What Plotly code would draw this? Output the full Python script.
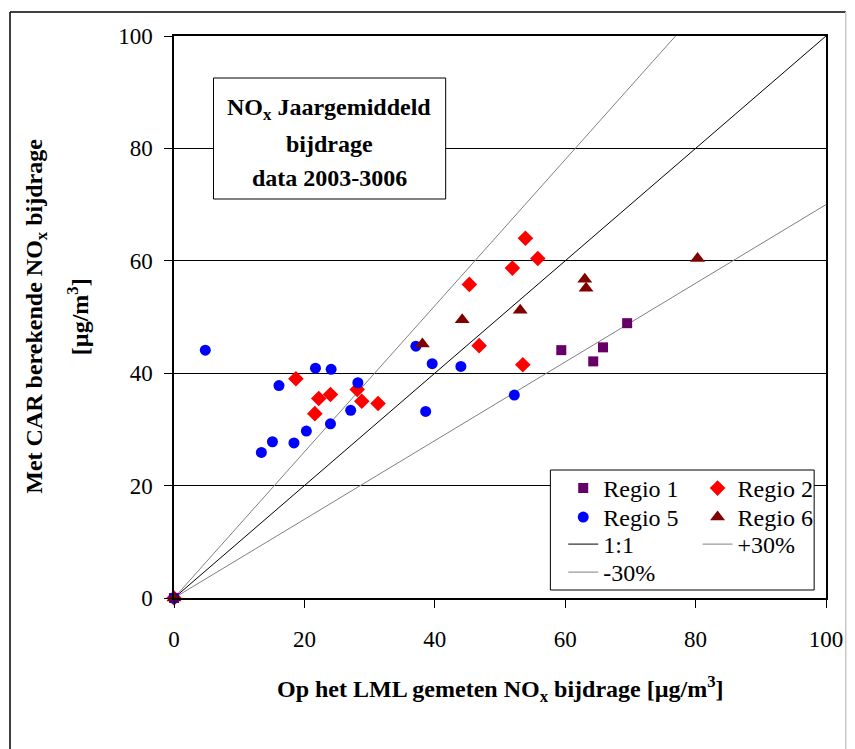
import plotly.graph_objects as go

# ---- data ----
regio1_x = [0, 59.4, 64.3, 65.8, 69.5]
regio1_y = [0, 44.1, 42.1, 44.6, 48.9]

regio2_x = [0, 18.7, 21.6, 22.2, 24.0, 28.1, 28.8, 31.3, 45.3, 46.8, 51.9, 53.5, 53.9, 55.8]
regio2_y = [0, 39.0, 32.8, 35.5, 36.2, 37.1, 35.0, 34.6, 55.8, 44.9, 58.7, 41.5, 64.0, 60.4]

regio5_x = [0, 4.8, 13.4, 15.1, 16.1, 18.4, 20.3, 21.7, 24.0, 24.1, 27.1, 28.2, 37.1, 38.6, 39.6, 44.0, 52.2]
regio5_y = [0, 44.1, 25.9, 27.8, 37.8, 27.6, 29.7, 40.9, 31.0, 40.7, 33.4, 38.3, 44.8, 33.2, 41.7, 41.2, 36.1]

regio6_x = [0, 38.1, 44.2, 53.1, 63.0, 63.2, 80.3]
regio6_y = [0, 45.2, 49.5, 51.2, 56.7, 55.1, 60.4]

line11_x = [0, 100]
line11_y = [0, 100]
plus30_x = [0, 76.92]
plus30_y = [0, 100]
minus30_x = [0, 100]
minus30_y = [0, 70]

tick_vals = [0, 20, 40, 60, 80, 100]

FONT = "Liberation Serif"

W, H = 855, 749
ML, MR, MT, MB = 174, 21, 36, 151
PW, PH = W - ML - MR, H - MT - MB


def px2x(p):
    return (p - ML) / PW


def px2y(p):
    return (H - MB - p) / PH


fig = go.Figure()

# reference lines
fig.add_trace(go.Scatter(x=line11_x, y=line11_y, mode="lines", name="1:1",
                         line=dict(color="#000000", width=1), legend="legend5"))
fig.add_trace(go.Scatter(x=plus30_x, y=plus30_y, mode="lines", name="+30%",
                         line=dict(color="#808080", width=1), legend="legend6"))
fig.add_trace(go.Scatter(x=minus30_x, y=minus30_y, mode="lines", name="-30%",
                         line=dict(color="#808080", width=1), legend="legend7"))

# data series
fig.add_trace(go.Scatter(x=regio1_x, y=regio1_y, mode="markers", name="Regio 1",
                         marker=dict(symbol="square", size=10, color="#660066"),
                         legend="legend", cliponaxis=False))
fig.add_trace(go.Scatter(x=regio2_x, y=regio2_y, mode="markers", name="Regio 2",
                         marker=dict(symbol="diamond", size=12, color="#FF0000"),
                         legend="legend2", cliponaxis=False))
fig.add_trace(go.Scatter(x=regio5_x, y=regio5_y, mode="markers", name="Regio 5",
                         marker=dict(symbol="circle", size=11, color="#0000FF"),
                         legend="legend3", cliponaxis=False))
fig.add_trace(go.Scatter(x=regio6_x, y=regio6_y, mode="markers", name="Regio 6",
                         marker=dict(symbol="triangle-up", size=13, color="#800000"),
                         legend="legend4", cliponaxis=False))

shapes = [
    # outer chart border
    dict(type="line", xref="paper", yref="paper", x0=px2x(8), x1=px2x(8), y0=px2y(12), y1=px2y(760),
         line=dict(color="#000000", width=1.5)),
    dict(type="line", xref="paper", yref="paper", x0=px2x(8), x1=px2x(854), y0=px2y(12), y1=px2y(12),
         line=dict(color="#000000", width=1.5)),
    dict(type="line", xref="paper", yref="paper", x0=px2x(854), x1=px2x(854), y0=px2y(12), y1=px2y(760),
         line=dict(color="#c8c8c8", width=1.5)),
    # text box
    dict(type="rect", xref="paper", yref="paper", layer="above",
         x0=px2x(214), x1=px2x(449), y0=px2y(199), y1=px2y(78),
         fillcolor="white", line=dict(color="#000000", width=1)),
    # legend box
    dict(type="rect", xref="paper", yref="paper", layer="above",
         x0=px2x(555), x1=px2x(822), y0=px2y(590), y1=px2y(470),
         fillcolor="white", line=dict(color="#000000", width=1)),
]

TITLE_SIZE = 24
annots = [
    dict(text="<b>NO<sub>x</sub> Jaargemiddeld</b>", x=px2x(331), y=px2y(109)),
    dict(text="<b>bijdrage</b>", x=px2x(331), y=px2y(144)),
    dict(text="<b>data 2003-3006</b>", x=px2x(331), y=px2y(178)),
]
annotations = []
for a in annots:
    annotations.append(dict(text=a["text"], x=a["x"], y=a["y"], xref="paper", yref="paper",
                            xanchor="center", yanchor="middle", showarrow=False,
                            font=dict(family=FONT, size=TITLE_SIZE, color="#000000")))
# axis titles
annotations.append(dict(text="<b>Op het LML gemeten NO<sub>x</sub> bijdrage [µg/m<sup>3</sup>]</b>",
                        x=0.5, y=px2y(689), xref="paper", yref="paper", xanchor="center",
                        yanchor="middle", showarrow=False,
                        font=dict(family=FONT, size=TITLE_SIZE, color="#000000")))
annotations.append(dict(text="<b>Met CAR berekende NO<sub>x</sub> bijdrage</b>",
                        x=px2x(34), y=px2y(316), xref="paper", yref="paper", xanchor="center",
                        yanchor="middle", showarrow=False, textangle=-90,
                        font=dict(family=FONT, size=TITLE_SIZE, color="#000000")))
annotations.append(dict(text="<b>[µg/m<sup>3</sup>]</b>",
                        x=px2x(77), y=px2y(317), xref="paper", yref="paper", xanchor="center",
                        yanchor="middle", showarrow=False, textangle=-90,
                        font=dict(family=FONT, size=TITLE_SIZE, color="#000000")))

axis_common = dict(range=[0, 100], tickvals=tick_vals, showline=True, linecolor="#000000",
                   linewidth=1.5, mirror=True, ticks="outside", ticklen=8, tickcolor="#000000",
                   tickwidth=1, zeroline=False,
                   tickfont=dict(family=FONT, size=23, color="#000000"))

legend_font = dict(family=FONT, size=24, color="#000000")
col_x = [568, 704]
row_y = [488.5, 517.5, 544.5, 572.5]
legend_slots = {
    "legend": (0, 0), "legend2": (1, 0),
    "legend3": (0, 1), "legend4": (1, 1),
    "legend5": (0, 2), "legend6": (1, 2),
    "legend7": (0, 3),
}
legend_layout = {}
for name, (c, r) in legend_slots.items():
    legend_layout[name] = dict(x=px2x(col_x[c]), y=px2y(row_y[r]), xanchor="left", yanchor="middle",
                               bgcolor="rgba(0,0,0,0)", borderwidth=0, font=legend_font)

fig.update_layout(
    width=W, height=H,
    margin=dict(l=ML, r=MR, t=MT, b=MB, pad=0),
    paper_bgcolor="white", plot_bgcolor="white",
    font=dict(family=FONT, color="#000000"),
    showlegend=True,
    xaxis=dict(**axis_common, showgrid=False, ticklabelstandoff=12),
    yaxis=dict(**axis_common, showgrid=True, gridcolor="#000000", gridwidth=1, ticklabelstandoff=7),
    shapes=shapes,
    annotations=annotations,
    **legend_layout,
)

fig.write_html("out.html")
